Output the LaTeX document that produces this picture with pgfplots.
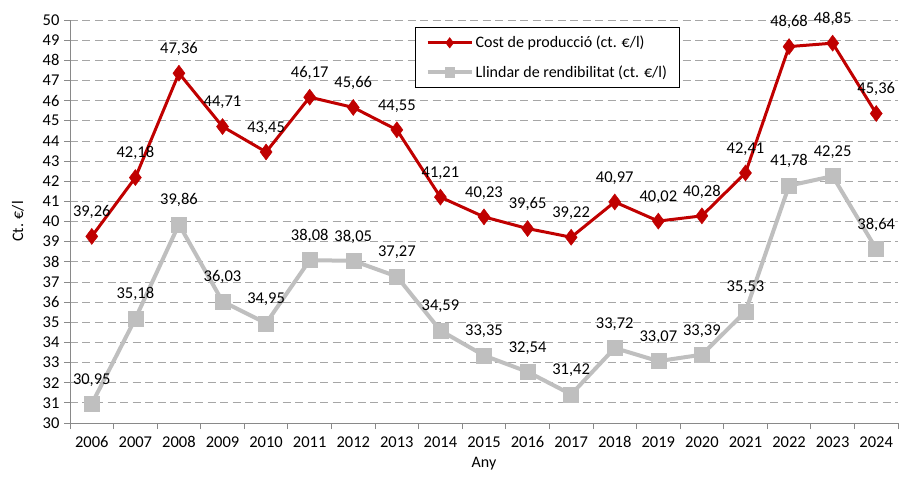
\documentclass[border=0pt]{standalone}
\usepackage{pgfplots}
\pgfplotsset{compat=1.18}
\usepackage{fontspec}
\setmainfont{Carlito}
\definecolor{cred}{HTML}{C00000}
\definecolor{cgrey}{HTML}{BFBFBF}
\definecolor{cgrid}{HTML}{A6A6A6}
\definecolor{caxis}{HTML}{898989}
\begin{document}
\begin{tikzpicture}
\begin{axis}[
  scale only axis,
  width=828pt, height=403pt,
  xmin=-0.5, xmax=18.5,
  ymin=30, ymax=50,
  ytick={30,31,...,50},
  xtick={0,1,...,18},
  xticklabels={2006,2007,2008,2009,2010,2011,2012,2013,2014,2015,2016,2017,2018,2019,2020,2021,2022,2023,2024},
  minor xtick={-0.5,0.5,...,18.5},
  major x tick style={draw=none},
  minor tick length=6pt,
  minor x tick style={caxis, line width=0.8pt},
  ytick style={caxis, line width=0.8pt},
  major tick length=6pt,
  tick align=outside,
  axis x line*=bottom, axis y line*=left,
  axis line style={caxis, line width=0.8pt, -},
  ymajorgrids,
  major grid style={cgrid, line width=0.8pt, dash pattern=on 8pt off 4.5pt},
  font=\fontsize{16}{19}\selectfont,
  tick label style={font=\fontsize{16.5}{19}\selectfont},
  yticklabel style={xshift=-1pt},
  xticklabel style={yshift=-4pt},
  /pgf/number format/assume math mode=true,
  ylabel={Ct. €/l},
  xlabel={Any},
  ylabel style={yshift=12pt},
  xlabel style={yshift=-2pt},
  clip=false,
  nodes near coords,
  every node near coord/.append style={font=\fontsize{16.5}{19}\selectfont, black, yshift=14pt,
    /pgf/number format/.cd, fixed, fixed zerofill, precision=2, use comma, assume math mode=true},
  legend style={at={(0.417,0.983)}, anchor=north west, draw=black, line width=0.8pt,
    font=\fontsize{16}{19}\selectfont, row sep=12pt, inner xsep=10pt, inner ysep=7pt},
  legend cell align=left,
  legend image code/.code={\draw[mark repeat=2, mark phase=2, #1, every mark/.append style={scale=0.65}] plot coordinates {(0pt,0pt) (22pt,0pt) (44pt,0pt)};},
]
\addplot[cred, line width=3pt, mark=diamond*, mark size=8pt, mark options={line width=0.5pt, fill=cred, draw=cred}] coordinates {
(0,39.26) (1,42.18) (2,47.36) (3,44.71) (4,43.45) (5,46.17) (6,45.66) (7,44.55) (8,41.21) (9,40.23) (10,39.65) (11,39.22) (12,40.97) (13,40.02) (14,40.28) (15,42.41) (16,48.68) (17,48.85) (18,45.36)};
\addlegendentry{Cost de producció (ct. €/l)}
\addplot[cgrey, line width=4pt, mark=square*, mark size=7.5pt, mark options={line width=0.5pt, fill=cgrey, draw=cgrey}] coordinates {
(0,30.95) (1,35.18) (2,39.86) (3,36.03) (4,34.95) (5,38.08) (6,38.05) (7,37.27) (8,34.59) (9,33.35) (10,32.54) (11,31.42) (12,33.72) (13,33.07) (14,33.39) (15,35.53) (16,41.78) (17,42.25) (18,38.64)};
\addlegendentry{Llindar de rendibilitat (ct. €/l)}
\end{axis}
\pgfresetboundingbox
\path (current axis.south west) ++(-70pt,-60pt) rectangle ++(899pt,483pt);
\end{tikzpicture}
\end{document}
